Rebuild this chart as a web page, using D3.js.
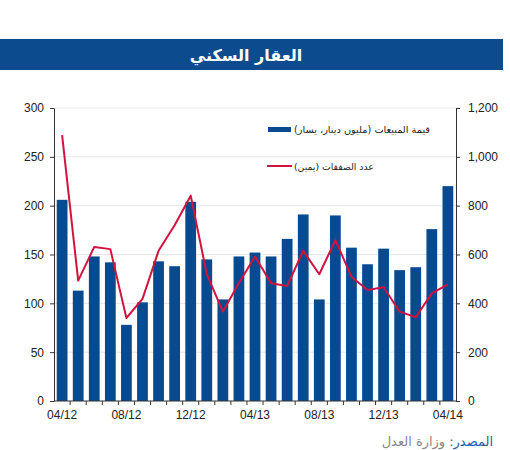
<!DOCTYPE html>
<html>
<head>
<meta charset="utf-8">
<script src="https://cdn.jsdelivr.net/npm/d3@7"></script>
<style>
  body { margin: 0; background: #fff; }
  text { font-family: "Liberation Sans", Arial, "DejaVu Sans", sans-serif; }
  .ar { font-family: "DejaVu Sans", sans-serif; }
</style>
</head>
<body>
<div id="chart"></div>
<script>
// monthly data, 04/12 .. 04/14
var months = ["04/12","05/12","06/12","07/12","08/12","09/12","10/12","11/12","12/12","01/13","02/13","03/13",
              "04/13","05/13","06/13","07/13","08/13","09/13","10/13","11/13","12/13","01/14","02/14","03/14","04/14"];
// sales value (million dinar, left axis)
var salesValue = [206,113,148,142,78,101,143,138,204,145,104,148,
                  152,148,166,191,104,190,157,140,156,134,137,176,220];
// number of deals (right axis)
var dealCount = [1089,493,631,622,340,418,615,720,841,520,366,483,
                 592,482,471,615,519,659,509,455,466,366,343,441,478];
var leftTicks = [0,50,100,150,200,250,300];
var rightTicks = [0,200,400,600,800,1000,1200];
var shownMonths = ["04/12","08/12","12/12","04/13","08/13","12/13","04/14"];

var titleText = "العقار السكني";
var legendSales = "قيمة المبيعات (مليون دينار، يسار)";
var legendDeals = "عدد الصفقات (يمين)";
var RLM = "\u200F";

var W = 510, H = 450;
var blue = "#074a90", red = "#d0143f";
var plotL = 54, plotR = 456, plotT = 108, plotB = 401;

var svg = d3.select("#chart").append("svg")
    .attr("width", W)
    .attr("height", H);

// title band
svg.append("rect")
    .attr("x", 0).attr("y", 39)
    .attr("width", 503).attr("height", 31)
    .attr("fill", "#0b4b8e");
svg.append("text")
    .attr("class", "ar")
    .attr("x", 246).attr("y", 61)
    .attr("text-anchor", "middle")
    .attr("fill", "#fff")
    .attr("font-size", 16)
    .attr("font-weight", "bold")
    .text(titleText);

var x = d3.scaleBand()
    .domain(months)
    .range([plotL, plotR])
    .paddingInner(0.33)
    .paddingOuter(0.17);

var yL = d3.scaleLinear().domain([0, 300]).range([plotB, plotT]);
var yR = d3.scaleLinear().domain([0, 1200]).range([plotB, plotT]);

// gridlines
svg.append("g")
  .selectAll("line")
  .data(leftTicks.slice(1))
  .join("line")
    .attr("x1", plotL).attr("x2", plotR)
    .attr("y1", d => yL(d)).attr("y2", d => yL(d))
    .attr("stroke", "#e6e6e6")
    .attr("stroke-width", 1);

// bars
svg.append("g")
  .selectAll("rect")
  .data(salesValue)
  .join("rect")
    .attr("x", (d, i) => x(months[i]))
    .attr("width", x.bandwidth())
    .attr("y", d => yL(d))
    .attr("height", d => yL(0) - yL(d))
    .attr("fill", blue);

// deals line
var line = d3.line()
    .x((d, i) => x(months[i]) + x.bandwidth() / 2)
    .y(d => yR(d));
svg.append("path")
    .datum(dealCount)
    .attr("d", line)
    .attr("fill", "none")
    .attr("stroke", red)
    .attr("stroke-width", 2)
    .attr("stroke-linejoin", "round");

// axes
var axL = svg.append("g")
    .attr("transform", "translate(" + plotL + ",0)")
    .call(d3.axisLeft(yL).tickValues(leftTicks).tickSize(4).tickPadding(6).tickSizeOuter(0));
var axR = svg.append("g")
    .attr("transform", "translate(" + plotR + ",0)")
    .call(d3.axisRight(yR).tickValues(rightTicks).tickSize(4).tickPadding(8).tickSizeOuter(0)
          .tickFormat(d3.format(",")));

var axB = svg.append("g")
    .attr("transform", "translate(0," + plotB + ")")
    .call(d3.axisBottom(x).tickValues(shownMonths).tickSize(0).tickPadding(9));
axB.select(".domain").attr("d", "M" + plotL + ",0H" + plotR);

// small ticks between the bars
var step = x.step();
var bounds = months.map(m => x(m) - x.paddingInner() * step / 2);
svg.append("g")
  .selectAll("line")
  .data(bounds.slice(1))
  .join("line")
    .attr("x1", d => d).attr("x2", d => d)
    .attr("y1", plotB).attr("y2", plotB + 4)
    .attr("stroke", "#333");

[axL, axR, axB].forEach(function (g) {
  g.selectAll("text").attr("font-size", 12).attr("fill", "#222")
    .style("font-family", "'Liberation Sans', Arial, sans-serif");
  g.selectAll("line").attr("stroke", "#333");
  g.select(".domain").attr("stroke", "#333");
});

// fit arabic text to a target width
function fit(sel, width) {
  var fs = +sel.attr("font-size");
  var w = sel.node().getComputedTextLength();
  sel.attr("font-size", (fs * width / w).toFixed(2));
}

// legend
svg.append("rect")
    .attr("x", 268).attr("y", 127)
    .attr("width", 23).attr("height", 5)
    .attr("fill", blue);
fit(svg.append("text")
    .attr("class", "ar")
    .attr("x", 294).attr("y", 133)
    .attr("font-size", 10)
    .attr("fill", "#222")
    .text(legendSales + RLM), 136);

svg.append("line")
    .attr("x1", 267).attr("x2", 292)
    .attr("y1", 166).attr("y2", 166)
    .attr("stroke", red).attr("stroke-width", 2);
fit(svg.append("text")
    .attr("class", "ar")
    .attr("x", 294).attr("y", 170)
    .attr("font-size", 10)
    .attr("fill", "#222")
    .text(legendDeals + RLM), 80);

// source note
var src = svg.append("text")
    .attr("class", "ar")
    .attr("x", 493).attr("y", 446)
    .attr("text-anchor", "end")
    .attr("font-size", 13)
    .attr("fill", "#1f5fa8")
    .text("المصدر:" + RLM);
var sw = src.node().getComputedTextLength();
svg.append("text")
    .attr("class", "ar")
    .attr("x", 493 - sw - 4).attr("y", 446)
    .attr("text-anchor", "end")
    .attr("font-size", 13)
    .attr("fill", "#888")
    .text("وزارة العدل");
</script>
</body>
</html>
